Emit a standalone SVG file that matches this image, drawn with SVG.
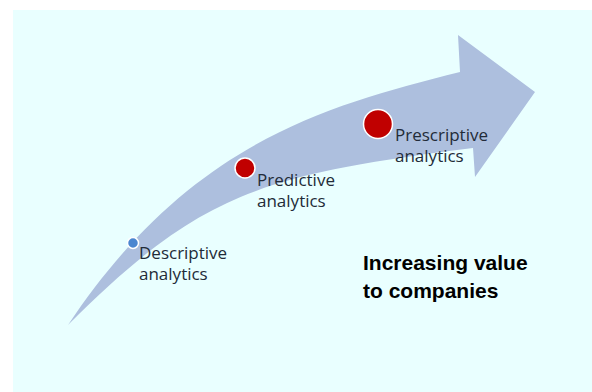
<svg xmlns="http://www.w3.org/2000/svg" width="592" height="392" viewBox="0 0 592 392">
  <style>
    .stage-label { font-family: "Open Sans", "Liberation Sans", sans-serif; font-size: 17px; fill: #222b38; }
    .stage-dot { stroke: #ffffff; stroke-width: 1.5; }
    .dot-red { fill: #c00000; }
    .dot-blue { fill: #4a86d0; }
    .caption { font-family: "Liberation Sans", Arial, sans-serif; font-size: 21px; font-weight: bold; fill: #000000; }
  </style>

  <!-- page and panel -->
  <rect x="0" y="0" width="592" height="392" fill="#ffffff"/>
  <rect id="panel" x="13" y="10" width="579" height="382" fill="#e9ffff"/>

  <!-- the rising curved arrow -->
  <g id="connectors">
    <path id="growth-arrow" fill="#adbfde"
          d="M68,325 C188,145 320,107 460,72 L458,35 L535,92 L475,177 L473,148 C260,175 200,193 68,325 Z"/>
  </g>

  <g id="descriptive">
    <circle class="stage-dot dot-blue" cx="133" cy="243" r="5.5"/>
    <text class="stage-label"><tspan x="139" y="259">Descriptive</tspan><tspan x="139" y="280">analytics</tspan></text>
  </g>

  <g id="predictive">
    <circle class="stage-dot dot-red" cx="245" cy="168" r="10"/>
    <text class="stage-label"><tspan x="257" y="186">Predictive</tspan><tspan x="257" y="207">analytics</tspan></text>
  </g>

  <g id="prescriptive">
    <circle class="stage-dot dot-red" cx="378" cy="124" r="14.5"/>
    <text class="stage-label"><tspan x="395" y="141">Prescriptive</tspan><tspan x="395" y="162">analytics</tspan></text>
  </g>

  <g id="value-caption">
    <text class="caption"><tspan x="363" y="270">Increasing value</tspan><tspan x="363" y="298">to companies</tspan></text>
  </g>
</svg>
